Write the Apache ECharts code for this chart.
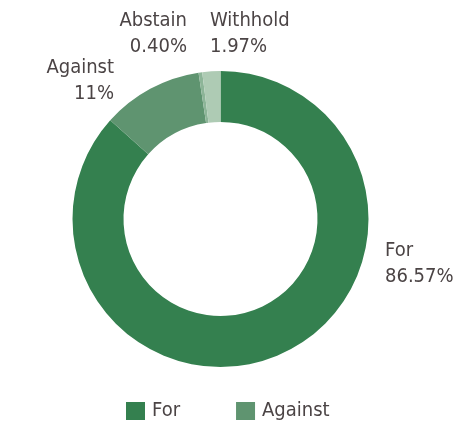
<!DOCTYPE html>
<html>
<head>
<meta charset="utf-8">
<script src="https://cdn.jsdelivr.net/npm/echarts@6/dist/echarts.min.js"></script>
<style>html,body{margin:0;padding:0;background:#fff}#c{width:455px;height:422px}</style>
</head>
<body>
<div id="c"></div>
<script>
var categories = ['For', 'Against', 'Abstain', 'Withhold'];
var values = [86.57, 11, 0.40, 1.97];
var pctLabels = ['86.57%', '11%', '0.40%', '1.97%'];
var colors = ['#34804F', '#5F9470', '#8DB598', '#AECBB4'];
var legendItems = ['For', 'Against'];

// label anchors (text placement only)
var labelAnchors = [
  {x: 385, y: 264, align: 'left'},
  {x: 114, y: 81, align: 'right'},
  {x: 187, y: 34, align: 'right'},
  {x: 210, y: 34, align: 'left'}
];

var FONT = '"DejaVu Sans Condensed", "Liberation Sans Narrow", sans-serif';
var TXT = '#4B4445';

var chart = echarts.init(document.getElementById('c'), null, {renderer: 'canvas'});
chart.setOption({
  animation: false,
  color: colors,
  legend: {
    data: legendItems,
    left: 126,
    top: 401,
    padding: 0,
    itemWidth: 19,
    itemHeight: 18,
    itemGap: 56,
    icon: 'rect',
    textStyle: {color: TXT, fontFamily: FONT, fontSize: 20, lineHeight: 18, padding: [0, 0, 0, 2]}
  },
  series: [{
    type: 'pie',
    center: [220.5, 219],
    radius: [97, 148],
    startAngle: 90,
    clockwise: true,
    avoidLabelOverlap: false,
    silent: true,
    data: categories.map(function (c, i) { return {name: c, value: values[i]}; }),
    label: {
      show: true,
      position: 'outside',
      formatter: function (p) { return p.name + '\n' + pctLabels[p.dataIndex]; },
      color: TXT,
      fontFamily: FONT,
      fontSize: 20,
      lineHeight: 26
    },
    labelLine: {show: false},
    labelLayout: function (p) {
      var a = labelAnchors[p.dataIndex];
      return {x: a.x, y: a.y, align: a.align, verticalAlign: 'middle', hideOverlap: false};
    }
  }]
});
</script>
</body>
</html>
